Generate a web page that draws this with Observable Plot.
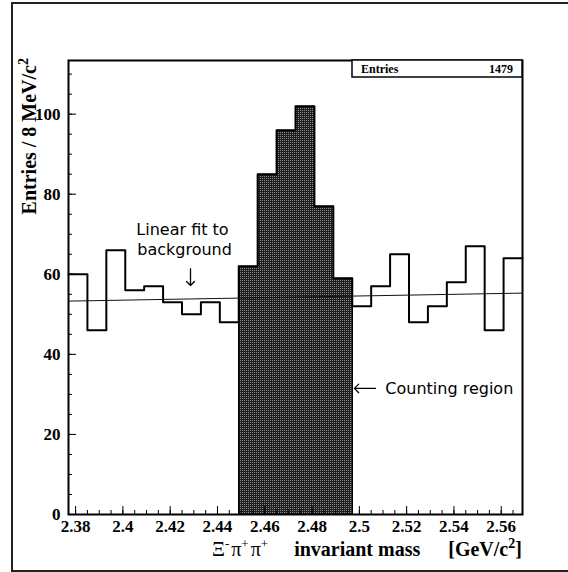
<!DOCTYPE html>
<html>
<head>
<meta charset="utf-8">
<script src="https://cdn.jsdelivr.net/npm/d3@7"></script>
<script src="https://cdn.jsdelivr.net/npm/@observablehq/plot@0.6"></script>
<style>
  html, body { margin: 0; padding: 0; background: #fff; }
  #chart { width: 568px; height: 572px; }
</style>
</head>
<body>
<div id="chart"></div>
<script>
// ---- data ----
const binLeftEdges = [2.377, 2.385, 2.393, 2.401, 2.409, 2.417, 2.425, 2.433, 2.441,
                      2.449, 2.457, 2.465, 2.473, 2.481, 2.489,
                      2.497, 2.505, 2.513, 2.521, 2.529, 2.537, 2.545, 2.553, 2.561];
const histUpperEdge = 2.569;
const counts = [60, 46, 66, 56, 57, 53, 50, 53, 48,
                62, 85, 96, 102, 77, 59,
                52, 57, 65, 48, 52, 58, 67, 46, 64];
const signalRange = [2.449, 2.497];
const entries = 1479;
const fitX = [2.377, 2.569];
const fitY = [53.3, 55.3];
const xTickValues = [2.38, 2.40, 2.42, 2.44, 2.46, 2.48, 2.50, 2.52, 2.54, 2.56];
const xTickLabels = ["2.38", "2.4", "2.42", "2.44", "2.46", "2.48", "2.5", "2.52", "2.54", "2.56"];
const yTickValues = [0, 20, 40, 60, 80, 100];
const yTickLabels = ["0", "20", "40", "60", "80", "100"];
const fitNote = [
  {text: "Linear fit to", x: 2.4252, y: 71.2},
  {text: "background", x: 2.4261, y: 66.2}
];
const regionNote = [{text: "Counting region", x: 2.511, y: 31.5}];
const arrows = [
  {x1: 2.4286, y1: 61.4, x2: 2.4286, y2: 57.2},
  {x1: 2.5068, y1: 31.5, x2: 2.4979, y2: 31.5}
];

// ---- derived tables ----
const hist = binLeftEdges.map((x, i) => ({x, y: counts[i]}));
const histLine = hist.concat([{x: histUpperEdge, y: counts[counts.length - 1]}]);
const sig = hist.filter(d => d.x >= signalRange[0] - 1e-9 && d.x < signalRange[1] - 1e-9);
const sigArea = sig.concat([{x: signalRange[1], y: sig[sig.length - 1].y}]);
const sigEdges = [
  {x: signalRange[0], y: sig[0].y},
  {x: signalRange[1], y: sig[sig.length - 1].y}
];
const fit = fitX.map((x, i) => ({x, y: fitY[i]}));
const xTicks = xTickValues.map((v, i) => ({v, label: xTickLabels[i]}));
const yTicks = yTickValues.map((v, i) => ({v, label: yTickLabels[i]}));
const xMinor = d3.range(2.38, 2.5651, 0.005).map(v => +v.toFixed(3));
const yMinor = d3.range(0, 111, 5);

const W = 568, H = 572, mL = 68, mR = 46, mT = 60, mB = 58;
const pw = W - mL - mR, ph = H - mT - mB;
const serif = "Liberation Serif, Times New Roman, serif";
const sans = "DejaVu Sans, sans-serif";

const chart = Plot.plot({
  width: W, height: H,
  marginLeft: mL, marginRight: mR, marginTop: mT, marginBottom: mB,
  x: {domain: [2.377, 2.569], axis: null},
  y: {domain: [0, 113.4], axis: null},
  style: {background: "white", color: "black"},
  marks: [
    Plot.areaY(sigArea, {x: "x", y: "y", curve: "step-after", fill: "url(#xhatch)"}),
    Plot.ruleX(sigEdges, {x: "x", y1: 0, y2: "y", stroke: "black", strokeWidth: 1.5}),
    Plot.line(histLine, {x: "x", y: "y", curve: "step-after", stroke: "black", strokeWidth: 2}),
    Plot.line(fit, {x: "x", y: "y", stroke: "#111", strokeWidth: 1}),
    Plot.ruleX(xTickValues, {insetTop: ph - 8, stroke: "black", strokeWidth: 1}),
    Plot.ruleX(xMinor, {insetTop: ph - 4, stroke: "black", strokeWidth: 1}),
    Plot.ruleY(yTickValues, {insetRight: pw - 8, stroke: "black", strokeWidth: 1}),
    Plot.ruleY(yMinor, {insetRight: pw - 4, stroke: "black", strokeWidth: 1}),
    Plot.text(xTicks, {x: "v", text: "label", frameAnchor: "bottom", lineAnchor: "top",
      textAnchor: "middle", dy: 5, fontFamily: serif, fontWeight: "bold", fontSize: 17, fill: "black"}),
    Plot.text(yTicks, {y: "v", text: "label", frameAnchor: "left", textAnchor: "end",
      dx: -8, fontFamily: serif, fontWeight: "bold", fontSize: 17, fill: "black"}),
    Plot.frame({stroke: "black", strokeWidth: 2}),
    Plot.text(fitNote, {x: "x", y: "y", text: "text", textAnchor: "middle",
      fontFamily: sans, fontSize: 16, fill: "black"}),
    Plot.text(regionNote, {x: "x", y: "y", text: "text", textAnchor: "start",
      fontFamily: sans, fontSize: 16, fill: "black"}),
    Plot.arrow(arrows, {x1: "x1", y1: "y1", x2: "x2", y2: "y2", stroke: "black",
      strokeWidth: 1.3, headLength: 7, headAngle: 90})
  ]
});

document.getElementById("chart").appendChild(chart);
const svg = d3.select(chart);

// pattern for shaded region
const defs = svg.insert("defs", ":first-child");
const pat = defs.append("pattern").attr("id", "xhatch").attr("width", 2).attr("height", 2)
  .attr("patternUnits", "userSpaceOnUse");
pat.append("rect").attr("width", 2).attr("height", 2).attr("fill", "#1e1e1e");
pat.append("rect").attr("width", 1).attr("height", 1).attr("fill", "#8c8c8c");

// outer frame
svg.append("rect").attr("x", 12).attr("y", 3).attr("width", 600).attr("height", 568)
  .attr("fill", "none").attr("stroke", "#222").attr("stroke-width", 2);

// stats box
svg.append("rect").attr("x", 352).attr("y", mT).attr("width", W - mR - 352).attr("height", 17)
  .attr("fill", "white").attr("stroke", "black").attr("stroke-width", 1.5);
svg.append("text").attr("x", 361).attr("y", 73).attr("text-anchor", "start")
  .attr("font-family", serif).attr("font-weight", "bold").attr("font-size", 12).text("Entries");
svg.append("text").attr("x", 513).attr("y", 73).attr("text-anchor", "end")
  .attr("font-family", serif).attr("font-weight", "bold").attr("font-size", 12).text(String(entries));

// y title
const yt = svg.append("text").attr("transform", `translate(36,58) rotate(-90)`)
  .attr("text-anchor", "end").attr("font-family", serif).attr("font-weight", "bold")
  .attr("font-size", 20);
yt.append("tspan").text("Entries / 8 MeV/c");
yt.append("tspan").attr("font-size", 14).attr("dy", -8).text("2");

// x title
const xt = svg.append("text").attr("x", 212).attr("y", 556).attr("text-anchor", "start")
  .attr("font-family", serif).attr("font-size", 20);
xt.append("tspan").text("Ξ");
xt.append("tspan").attr("font-size", 13).attr("dy", -8).text("-");
xt.append("tspan").attr("dy", 8).attr("dx", 2).text("π");
xt.append("tspan").attr("font-size", 13).attr("dy", -8).text("+");
xt.append("tspan").attr("dy", 8).attr("dx", 2).text("π");
xt.append("tspan").attr("font-size", 13).attr("dy", -8).text("+");
xt.append("tspan").attr("dy", 8).attr("dx", 26).attr("font-weight", "bold").text("invariant mass");
xt.append("tspan").attr("dx", 28).attr("font-weight", "bold").text("[GeV/c");
xt.append("tspan").attr("font-size", 14).attr("dy", -8).attr("font-weight", "bold").text("2");
xt.append("tspan").attr("dy", 8).attr("font-weight", "bold").text("]");
</script>
</body>
</html>
